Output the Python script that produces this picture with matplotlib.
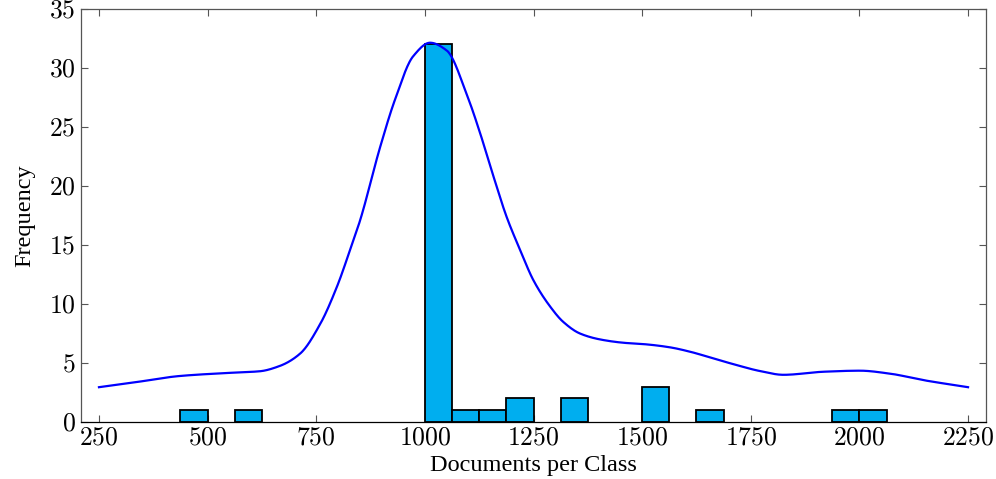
import numpy as np
import matplotlib.pyplot as plt
from matplotlib.ticker import FuncFormatter

plt.rcParams['font.family'] = ['Liberation Serif', 'DejaVu Serif']
plt.rcParams['mathtext.fontset'] = 'cm'

# histogram bins (left edge) and counts
bin_left = [437.5, 562.5, 1000, 1062.5, 1125, 1187.5, 1312.5, 1500, 1625, 1937.5, 2000]
counts = [1, 1, 32, 1, 1, 2, 2, 3, 1, 1, 1]
bin_width = 62.5

# smoothed density curve
curve_x = [250, 330, 436, 558, 620, 666, 713, 759, 798, 828, 851, 897, 931, 973, 1012,
           1050, 1100, 1127, 1158, 1188, 1219, 1250, 1288, 1318, 1357, 1403, 1456,
           1510, 1564, 1610, 1663, 1717, 1771, 1825, 1917, 2001, 2070, 2147, 2250]
curve_y = [2.95, 3.35, 3.9, 4.18, 4.3, 4.75, 5.8, 8.3, 11.5, 14.6, 17.1, 23.3, 27.3, 31.0, 32.15,
           31.5, 27.4, 24.5, 20.8, 17.4, 14.6, 12.0, 9.8, 8.5, 7.5, 7.0, 6.72,
           6.58, 6.33, 5.96, 5.4, 4.83, 4.32, 4.0, 4.26, 4.35, 4.1, 3.55, 2.95]

x_ticks = [250, 500, 750, 1000, 1250, 1500, 1750, 2000, 2250]
y_ticks = [0, 5, 10, 15, 20, 25, 30, 35]


def pchip(xp, yp, n=25):
    # monotone cubic (Fritsch-Carlson) through the read points, only for drawing
    h = np.diff(xp)
    d = np.diff(yp) / h
    m = np.zeros_like(yp)
    for k in range(1, len(xp) - 1):
        if d[k-1] * d[k] > 0:
            w1, w2 = 2*h[k] + h[k-1], h[k] + 2*h[k-1]
            m[k] = (w1 + w2) / (w1 / d[k-1] + w2 / d[k])
    m[0], m[-1] = d[0], d[-1]
    px, py = [], []
    t = np.linspace(0, 1, n, endpoint=False)
    for k in range(len(xp) - 1):
        h00 = 2*t**3 - 3*t**2 + 1
        h10 = t**3 - 2*t**2 + t
        h01 = -2*t**3 + 3*t**2
        h11 = t**3 - t**2
        px.extend(xp[k] + t*h[k])
        py.extend(h00*yp[k] + h10*h[k]*m[k] + h01*yp[k+1] + h11*h[k]*m[k+1])
    px.append(xp[-1]); py.append(yp[-1])
    return np.array(px), np.array(py)


fig = plt.figure(figsize=(9.96, 4.79), dpi=100)
ax = fig.add_axes([0.0813, 0.119, 0.9087, 0.862])

ax.bar(bin_left, counts, width=bin_width, align='edge', color='#00AEEF',
       edgecolor='black', linewidth=1.3, zorder=2)

cx, cy = pchip(np.array(curve_x, float), np.array(curve_y, float))
ax.plot(cx, cy, color='#0000FF', linewidth=1.6, zorder=3, antialiased=True)

ax.set_xlim(208.6, 2291.4)
ax.set_ylim(0, 35)
ax.set_xticks(x_ticks)
ax.set_yticks(y_ticks)
fmt = FuncFormatter(lambda v, p: r'$%d$' % v)
ax.xaxis.set_major_formatter(fmt)
ax.yaxis.set_major_formatter(fmt)
ax.tick_params(direction='in', length=5, width=0.8, color='#555555',
               top=True, right=True, labelsize=18.5, pad=4)
for s in ax.spines.values():
    s.set_color('#555555')
    s.set_linewidth(0.9)
ax.spines['bottom'].set_color('black')

ax.set_xlabel('Documents per Class', fontsize=17.5, labelpad=4)
ax.set_ylabel('Frequency', fontsize=17.5, labelpad=10)

fig.savefig('out.png', dpi=100)
